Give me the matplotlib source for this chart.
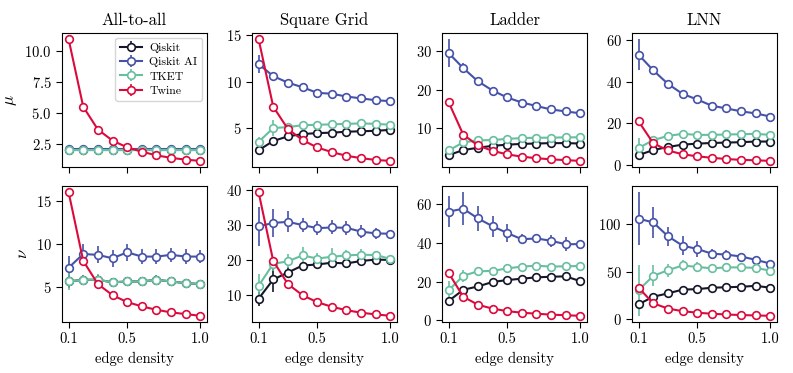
import numpy as np
import matplotlib.pyplot as plt
from matplotlib.ticker import MultipleLocator

plt.rcParams['font.family'] = 'serif'
plt.rcParams['font.serif'] = ['cmr10', 'DejaVu Serif']
plt.rcParams['mathtext.fontset'] = 'cm'
plt.rcParams['axes.formatter.use_mathtext'] = True

edge_density = [0.1, 0.2, 0.3, 0.4, 0.5, 0.6, 0.7, 0.8, 0.9, 1.0]
compilers = ['Qiskit', 'Qiskit AI', 'TKET', 'Twine']
colors = ['#15152b', '#4552a8', '#68bfa0', '#dc0a3c']
topologies = ['All-to-all', 'Square Grid', 'Ladder', 'LNN']

# mu: rows = Qiskit, Qiskit AI, TKET, Twine
mu_all = [[2.0, 2.0, 2.0, 2.0, 2.0, 2.0, 2.0, 2.0, 2.0, 2.0],
          [2.05, 2.05, 2.05, 2.05, 2.05, 2.05, 2.05, 2.05, 2.05, 2.05],
          [2.0, 2.0, 2.0, 2.0, 2.0, 2.0, 2.0, 2.0, 2.0, 2.0],
          [11.0, 5.5, 3.65, 2.75, 2.2, 1.85, 1.55, 1.35, 1.2, 1.1]]
mu_all_err = [[0.05] * 10, [0.1] * 10, [0.05] * 10, [0.0] * 10]

mu_grid = [[2.6, 3.6, 4.1, 4.35, 4.45, 4.5, 4.6, 4.65, 4.7, 4.8],
           [11.9, 10.6, 9.9, 9.4, 8.8, 8.7, 8.4, 8.2, 8.0, 7.9],
           [3.5, 5.0, 5.1, 5.3, 5.35, 5.4, 5.45, 5.5, 5.45, 5.35],
           [14.6, 7.3, 4.9, 3.7, 2.9, 2.4, 2.0, 1.75, 1.55, 1.45]]
mu_grid_err = [[0.3, 0.3, 0.2, 0.2, 0.15, 0.15, 0.15, 0.1, 0.1, 0.1],
               [1.0, 0.5, 0.3, 0.2, 0.2, 0.2, 0.15, 0.15, 0.1, 0.1],
               [0.5, 0.9, 0.3, 0.2, 0.2, 0.2, 0.15, 0.15, 0.1, 0.1],
               [0.0] * 10]

mu_ladder = [[3.1, 4.4, 5.0, 5.5, 5.8, 6.0, 6.1, 6.2, 6.2, 6.1],
             [29.5, 25.6, 22.2, 19.8, 18.0, 16.7, 15.8, 14.9, 14.4, 13.9],
             [4.3, 6.4, 6.9, 7.0, 7.3, 7.5, 7.6, 7.6, 7.7, 7.7],
             [16.8, 8.4, 5.6, 4.2, 3.3, 2.7, 2.3, 2.0, 1.8, 1.6]]
mu_ladder_err = [[0.5, 0.4, 0.3, 0.3, 0.2, 0.2, 0.2, 0.2, 0.2, 0.2],
                 [3.6, 1.2, 0.6, 0.5, 0.4, 0.3, 0.3, 0.3, 0.3, 0.2],
                 [1.0, 0.5, 0.4, 0.3, 0.3, 0.3, 0.2, 0.2, 0.2, 0.2],
                 [0.0] * 10]

mu_lnn = [[4.8, 7.2, 8.7, 9.8, 10.3, 10.6, 10.8, 11.0, 11.3, 11.3],
          [53.0, 45.5, 39.0, 34.2, 31.5, 28.5, 27.2, 25.8, 24.8, 23.3],
          [8.2, 12.0, 14.0, 15.0, 14.5, 14.5, 14.7, 14.8, 15.0, 14.5],
          [21.0, 10.5, 7.0, 5.2, 4.2, 3.5, 2.9, 2.5, 2.3, 2.0]]
mu_lnn_err = [[0.8, 0.6, 0.5, 0.4, 0.4, 0.3, 0.3, 0.3, 0.3, 0.3],
              [7.5, 2.2, 1.0, 0.8, 0.7, 0.5, 0.5, 0.4, 0.4, 0.3],
              [5.0, 1.5, 0.8, 0.6, 0.5, 0.5, 0.4, 0.4, 0.4, 0.3],
              [0.0] * 10]

# nu
nu_all = [[5.6, 5.8, 5.8, 5.5, 5.6, 5.6, 5.8, 5.6, 5.4, 5.3],
          [7.2, 8.8, 8.7, 8.3, 9.0, 8.5, 8.5, 8.7, 8.5, 8.5],
          [5.6, 5.8, 5.8, 5.5, 5.6, 5.6, 5.8, 5.6, 5.4, 5.3],
          [16.0, 8.0, 5.3, 4.0, 3.2, 2.7, 2.3, 2.0, 1.8, 1.6]]
nu_all_err = [[0.8, 0.6, 0.6, 0.5, 0.5, 0.5, 0.5, 0.4, 0.4, 0.3],
              [1.4, 1.2, 1.0, 1.0, 1.0, 0.9, 0.9, 0.8, 0.9, 0.8],
              [1.0, 0.6, 0.7, 0.5, 0.5, 0.5, 0.6, 0.4, 0.4, 0.3],
              [0.0] * 10]

nu_grid = [[8.8, 14.3, 16.3, 18.3, 18.6, 19.1, 18.9, 19.6, 20.0, 19.9],
           [29.5, 30.5, 30.8, 29.9, 29.0, 29.2, 29.1, 28.0, 27.5, 27.4],
           [12.5, 18.8, 19.5, 21.2, 20.3, 20.8, 21.2, 21.4, 21.3, 20.2],
           [39.3, 19.6, 13.0, 9.8, 7.8, 6.5, 5.5, 4.8, 4.3, 3.9]]
nu_grid_err = [[2.0, 3.5, 1.5, 1.0, 1.0, 1.0, 1.0, 1.0, 1.0, 0.5],
               [5.5, 4.0, 3.0, 2.0, 2.0, 2.0, 2.0, 1.8, 1.5, 0.5],
               [3.5, 2.0, 2.0, 2.5, 1.5, 2.5, 1.5, 1.5, 1.0, 0.5],
               [0.0] * 10]

nu_ladder = [[10.0, 15.8, 17.5, 19.8, 20.8, 21.5, 22.2, 22.5, 22.7, 20.2],
             [56.0, 57.5, 52.5, 48.5, 45.0, 41.8, 42.2, 41.0, 39.2, 39.3],
             [15.5, 23.0, 25.3, 25.5, 26.8, 27.7, 28.2, 27.7, 27.9, 28.0],
             [24.5, 12.2, 8.1, 6.1, 4.8, 4.0, 3.5, 3.0, 2.7, 2.4]]
nu_ladder_err = [[2.0, 1.5, 2.0, 1.0, 1.0, 1.0, 1.0, 1.0, 1.0, 0.5],
                 [8.0, 8.5, 6.5, 5.5, 4.5, 2.5, 2.5, 3.0, 3.5, 1.0],
                 [5.0, 3.0, 2.0, 1.5, 2.0, 1.5, 1.5, 1.0, 1.0, 0.5],
                 [0.0] * 10]

nu_lnn = [[15.5, 23.5, 27.0, 31.0, 31.5, 33.0, 33.5, 34.0, 35.0, 33.0],
          [106.0, 102.0, 87.5, 77.5, 74.0, 69.0, 68.0, 66.0, 62.5, 58.5],
          [30.5, 45.5, 51.5, 56.5, 55.0, 53.5, 54.5, 54.5, 54.0, 51.0],
          [33.0, 16.5, 11.0, 8.2, 6.6, 5.5, 4.7, 4.1, 3.7, 3.3]]
nu_lnn_err = [[2.0, 2.0, 2.0, 1.5, 1.5, 1.5, 1.5, 1.5, 1.5, 1.0],
              [28.0, 16.0, 10.0, 10.0, 8.0, 5.0, 5.0, 3.0, 3.0, 2.0],
              [27.0, 11.0, 7.0, 6.0, 5.0, 3.0, 3.0, 3.0, 3.0, 2.0],
              [0.0] * 10]

mu_data = [(mu_all, mu_all_err), (mu_grid, mu_grid_err),
           (mu_ladder, mu_ladder_err), (mu_lnn, mu_lnn_err)]
nu_data = [(nu_all, nu_all_err), (nu_grid, nu_grid_err),
           (nu_ladder, nu_ladder_err), (nu_lnn, nu_lnn_err)]

W, H = 793, 373
fig = plt.figure(figsize=(W / 100, H / 100), dpi=100)

lefts = [62, 252, 442, 632]
width = 145
rows = [(33, 167), (186, 322)]

for r, (metric, label) in enumerate([(mu_data, r'$\mu$'), (nu_data, r'$\nu$')]):
    top, bottom = rows[r]
    for c in range(4):
        ax = fig.add_axes([lefts[c] / W, 1 - bottom / H, width / W, (bottom - top) / H])
        vals, errs = metric[c]
        for k in range(4):
            ax.errorbar(edge_density, vals[k], yerr=errs[k], color=colors[k],
                        marker='o', markersize=5.5, markerfacecolor='white',
                        markeredgewidth=1.2, linewidth=1.5, elinewidth=1.2,
                        capsize=0, label=compilers[k])
        ax.set_xticks([0.1, 0.5, 1.0])
        ax.tick_params(labelsize=10.5, length=4)
        if r == 0:
            ax.set_title(topologies[c], fontsize=12)
            ax.set_xticklabels([])
        else:
            ax.set_xticklabels(['0.1', '0.5', '1.0'])
            ax.set_xlabel('edge density', fontsize=10.5)
        if c == 0:
            ax.set_ylabel(label, fontsize=12)
        if r == 0 and c == 0:
            ax.yaxis.set_major_locator(MultipleLocator(2.5))
            ax.legend(loc='upper right', fontsize=8.5, handlelength=1.9,
                      handletextpad=0.6, labelspacing=0.35, borderaxespad=0.4)

fig.savefig('out.png', dpi=100)
